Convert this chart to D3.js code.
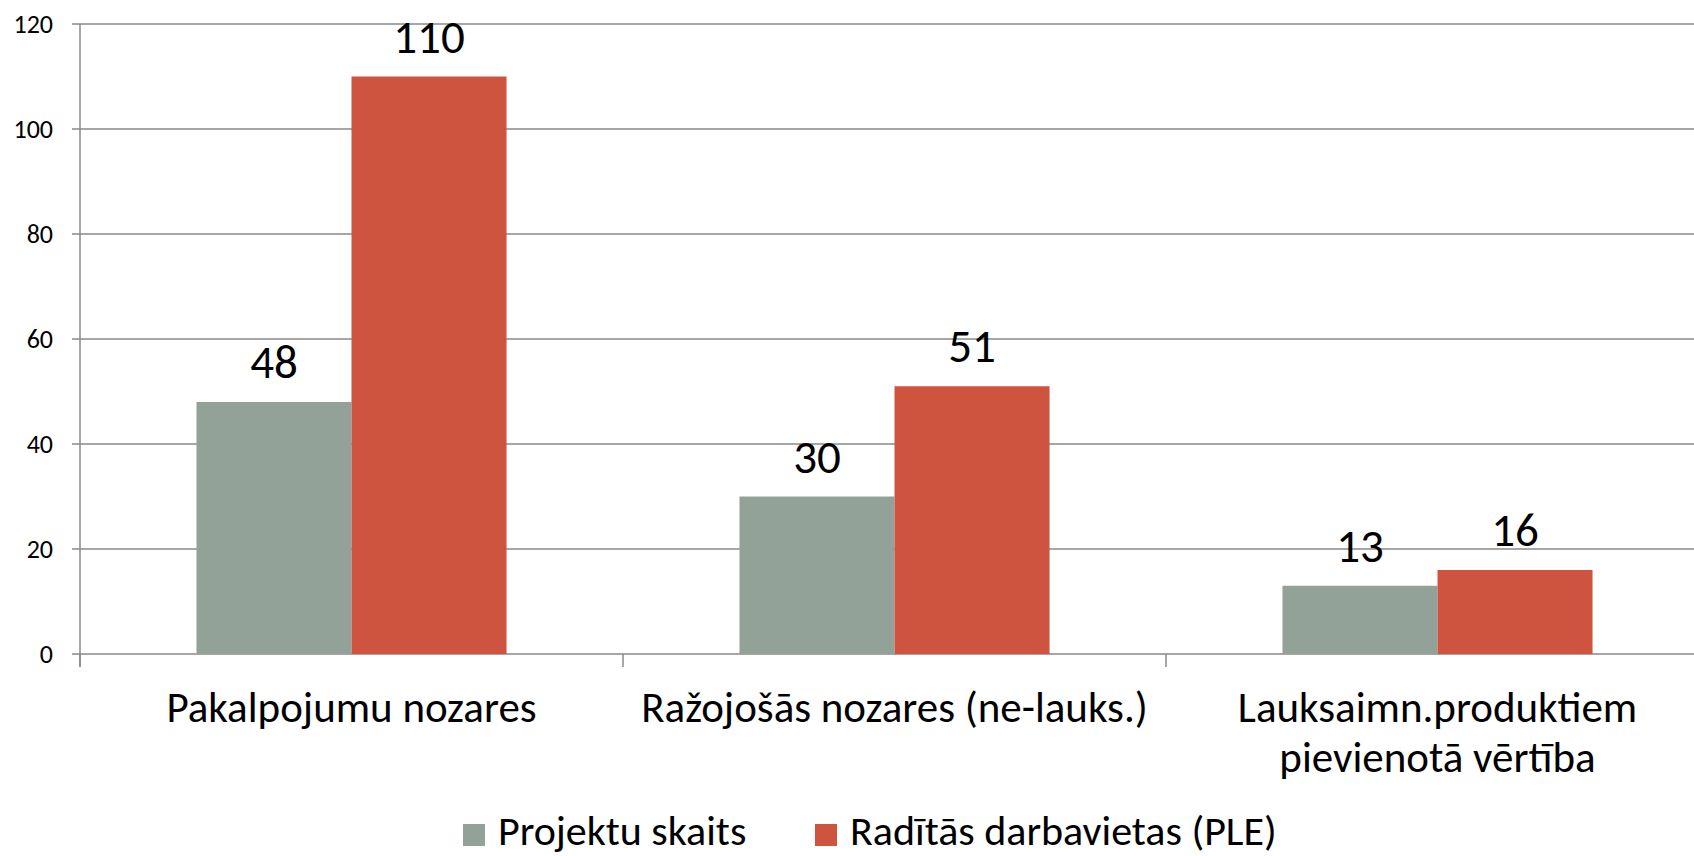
<!DOCTYPE html>
<html lang="lv">
<head>
<meta charset="UTF-8">
<title>Projekti un darbavietas</title>
<script src="https://cdn.jsdelivr.net/npm/d3@7"></script>
<style>
  body { margin: 0; background: #fff; }
  text { font-family: Calibri, Carlito, Lato, sans-serif; fill: #000; }
</style>
</head>
<body>
<script>
var categories = ["Pakalpojumu nozares", "Ražojošās nozares (ne-lauks.)", "Lauksaimn.produktiem pievienotā vērtība"];
var seriesNames = ["Projektu skaits", "Radītās darbavietas (PLE)"];
var projekti = [48, 30, 13];
var darbavietas = [110, 51, 16];
var yTicks = [0, 20, 40, 60, 80, 100, 120];
var colors = ["#93a299", "#cf543f"];

var width = 1694, height = 856;
var left = 80, step = 543, top0 = 24, bottom0 = 654;

var svg = d3.select("body").append("svg").attr("width", width).attr("height", height);

var x = d3.scaleBand().domain(categories).range([left, left + step * categories.length])
    .paddingInner(0.429).paddingOuter(0.2145);
var x1 = d3.scaleBand().domain([0, 1]).range([0, x.bandwidth()]);
var y = d3.scaleLinear().domain([0, 120]).range([bottom0, top0]);

// grid + y ticks
svg.append("g").selectAll("line").data(yTicks).enter().append("line")
    .attr("x1", left - 8).attr("x2", width)
    .attr("y1", function(d){ return y(d) }).attr("y2", function(d){ return y(d) })
    .attr("stroke", "#898989").attr("stroke-width", 1.5);

svg.append("g").selectAll("text").data(yTicks).enter().append("text")
    .attr("x", 53).attr("y", function(d){ return y(d) + 9 })
    .attr("text-anchor", "end").style("font-size", "26px")
    .text(function(d){ return d });

// bars
var rows = categories.map(function(c, i){ return {cat: c, vals: [projekti[i], darbavietas[i]]} });
var grp = svg.append("g").selectAll("g").data(rows).enter().append("g")
    .attr("transform", function(d){ return "translate(" + x(d.cat) + ",0)" });

grp.selectAll("rect").data(function(d){ return d.vals }).enter().append("rect")
    .attr("x", function(d, j){ return x1(j) }).attr("width", x1.bandwidth())
    .attr("y", function(d){ return y(d) }).attr("height", function(d){ return y(0) - y(d) })
    .attr("fill", function(d, j){ return colors[j] });

grp.selectAll("text").data(function(d){ return d.vals }).enter().append("text")
    .attr("x", function(d, j){ return x1(j) + x1.bandwidth() / 2 })
    .attr("y", function(d){ return y(d) - 24 })
    .attr("text-anchor", "middle").style("font-size", "47px")
    .text(function(d){ return d });

// axes lines
svg.append("line").attr("x1", left).attr("x2", left).attr("y1", top0).attr("y2", bottom0 + 13)
    .attr("stroke", "#898989").attr("stroke-width", 1.5);
var bounds = d3.range(categories.length + 1).map(function(i){ return left + i * x.step() });
svg.append("g").selectAll("line").data(bounds).enter().append("line")
    .attr("x1", function(d){ return d }).attr("x2", function(d){ return d })
    .attr("y1", bottom0).attr("y2", bottom0 + 13)
    .attr("stroke", "#898989").attr("stroke-width", 1.5);

// category labels
var catText = svg.append("g").selectAll("text").data(categories).enter().append("text")
    .attr("x", function(d){ return x(d) + x.bandwidth() / 2 })
    .attr("y", 722).attr("text-anchor", "middle").style("font-size", "43px");

catText.each(function(d){
    var t = d3.select(this), words = d.split(" "), line = [];
    var ts = t.append("tspan").attr("x", t.attr("x")).attr("dy", 0);
    words.forEach(function(w){
        line.push(w);
        ts.text(line.join(" "));
        if (ts.node().getComputedTextLength() > 530 && line.length > 1) {
            line.pop();
            ts.text(line.join(" "));
            line = [w];
            ts = t.append("tspan").attr("x", t.attr("x")).attr("dy", 50).text(w);
        }
    });
});

// legend
var legX = [463, 815];
var leg = svg.append("g").selectAll("g").data(seriesNames).enter().append("g")
    .attr("transform", function(d, i){ return "translate(" + legX[i] + ",824)" });
leg.append("rect").attr("width", 22).attr("height", 22).attr("fill", function(d, i){ return colors[i] });
leg.append("text").attr("x", 35).attr("y", 21).style("font-size", "42px").text(function(d){ return d });
</script>
</body>
</html>
